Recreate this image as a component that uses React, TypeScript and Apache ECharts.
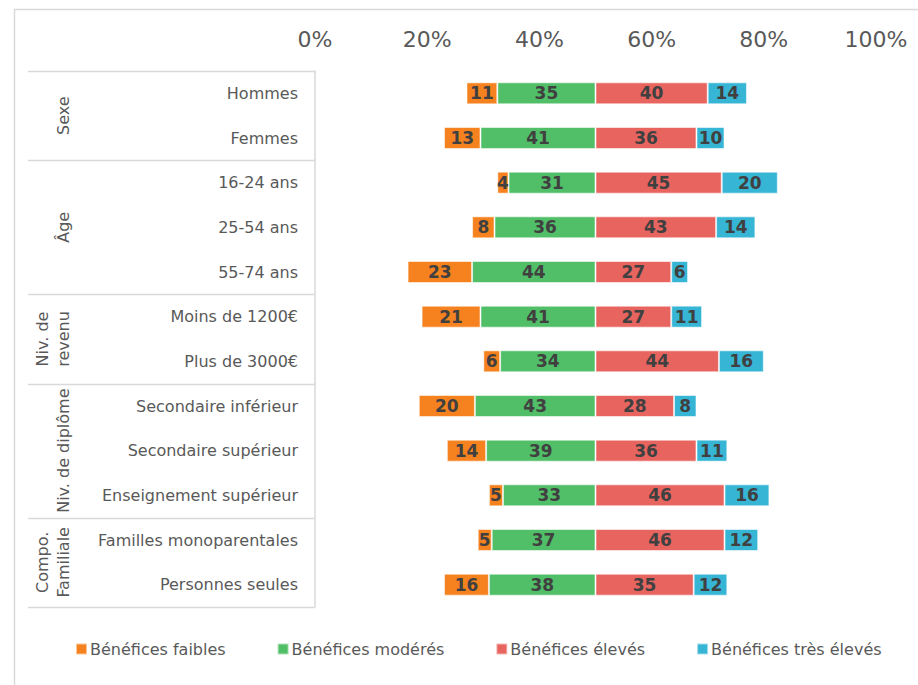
import React, { useEffect, useRef } from "react";
import * as echarts from "echarts";

const categories = [
  "Hommes",
  "Femmes",
  "16-24 ans",
  "25-54 ans",
  "55-74 ans",
  "Moins de 1200€",
  "Plus de 3000€",
  "Secondaire inférieur",
  "Secondaire supérieur",
  "Enseignement supérieur",
  "Familles monoparentales",
  "Personnes seules",
];

const groups = ["Sexe", "Âge", "Niv. de\nrevenu", "Niv. de diplôme", "Compo.\nFamiliale"];
const groupSizes = [2, 3, 2, 3, 2];

const seriesNames = [
  "Bénéfices faibles",
  "Bénéfices modérés",
  "Bénéfices élevés",
  "Bénéfices très élevés",
];

const faibles = [11, 13, 4, 8, 23, 21, 6, 20, 14, 5, 5, 16];
const moderes = [35, 41, 31, 36, 44, 41, 34, 43, 39, 33, 37, 38];
const eleves = [40, 36, 45, 43, 27, 27, 44, 28, 36, 46, 46, 35];
const tresEleves = [14, 10, 20, 14, 6, 11, 16, 8, 11, 16, 12, 12];

const axisTicks = [0, 20, 40, 60, 80, 100];

const colors = ["#F5821F", "#51BE68", "#E8645F", "#37B5D5"];
const FONT = '"DejaVu Sans", Verdana, sans-serif';

export default function App() {
  const ref = useRef<HTMLDivElement>(null);

  useEffect(() => {
    if (!ref.current) return;
    const chart = echarts.init(ref.current, undefined, { renderer: "svg" });

    const label = {
      show: true,
      position: "inside" as const,
      color: "#404040",
      fontWeight: "bold" as const,
      fontSize: 17,
      fontFamily: FONT,
      formatter: (p: any) => String(Math.abs(p.value)),
    };
    const itemStyle = (c: string) => ({
      color: c,
      borderColor: "rgba(255,255,255,0.55)",
      borderWidth: 1,
    });

    const mk = (name: string, vals: number[], sign: number, color: string) => ({
      name,
      type: "bar" as const,
      stack: "total",
      xAxisIndex: 0,
      barWidth: 22,
      data: vals.map((v) => v * sign),
      itemStyle: itemStyle(color),
      label,
    });

    chart.setOption({
      animation: false,
      textStyle: { fontFamily: FONT },
      grid: { left: 315, right: 42, top: 71, bottom: 78, containLabel: false },
      xAxis: [
        {
          type: "value",
          min: -100,
          max: 100,
          show: false,
        },
        {
          type: "value",
          position: "top",
          min: axisTicks[0],
          max: axisTicks[axisTicks.length - 1],
          interval: axisTicks[1] - axisTicks[0],
          axisLine: { show: false },
          axisTick: { show: false },
          splitLine: { show: false },
          axisLabel: {
            formatter: "{value}%",
            color: "#595959",
            fontSize: 22,
            fontFamily: FONT,
            margin: 21,
          },
        },
      ],
      yAxis: {
        type: "category",
        inverse: true,
        data: categories,
        axisLine: { show: true, onZero: false, lineStyle: { color: "#D9D9D9", width: 1.5 } },
        axisTick: { show: false },
        axisLabel: {
          color: "#595959",
          fontSize: 16,
          fontFamily: FONT,
          margin: 17,
        },
      },
      legend: {
        data: seriesNames,
        left: 75,
        top: 641,
        padding: 0,
        icon: "rect",
        itemWidth: 11,
        itemHeight: 11,
        itemGap: 51,
        textStyle: { color: "#595959", fontSize: 16, fontFamily: FONT, padding: [0, 0, 0, -2] },
      },
      series: [
        mk(seriesNames[1], moderes, -1, colors[1]),
        mk(seriesNames[0], faibles, -1, colors[0]),
        mk(seriesNames[2], eleves, 1, colors[2]),
        mk(seriesNames[3], tresEleves, 1, colors[3]),
      ],
    });

    // Group separators and labels, positioned from the category axis
    const yc = (i: number) => chart.convertToPixel({ yAxisIndex: 0 }, i) as number;
    const band = yc(1) - yc(0);
    const axisX = chart.convertToPixel({ xAxisIndex: 0 }, -100) as number;
    const elements: any[] = [
      {
        type: "rect",
        z: -10,
        shape: { x: 14.5, y: 9.5, width: 2000, height: 2000 },
        style: { fill: "none", stroke: "#D9D9D9", lineWidth: 1.5 },
        silent: true,
      },
    ];
    let idx = 0;
    const boundaries: number[] = [yc(0) - band / 2];
    groups.forEach((g, gi) => {
      const start = idx;
      idx += groupSizes[gi];
      const yTop = yc(start) - band / 2;
      const yBot = yc(idx - 1) + band / 2;
      boundaries.push(yBot);
      const twoLines = g.includes("\n");
      elements.push({
        type: "text",
        x: twoLines ? 52.5 : 63,
        y: (yTop + yBot) / 2,
        rotation: Math.PI / 2,
        style: {
          text: g,
          fill: "#595959",
          font: `16px ${FONT}`,
          align: "center",
          verticalAlign: "middle",
          lineHeight: 21,
        },
      });
    });
    boundaries.forEach((y) => {
      const yy = Math.round(y) + 0.5;
      elements.push({
        type: "line",
        shape: { x1: 28, y1: yy, x2: axisX, y2: yy },
        style: { stroke: "#D9D9D9", lineWidth: 1.5 },
        silent: true,
      });
    });
    chart.setOption({ graphic: elements });

    return () => chart.dispose();
  }, []);

  return (
    <div
      ref={ref}
      style={{ position: "absolute", left: 0, top: 0, width: 918, height: 685, background: "#fff" }}
    />
  );
}
